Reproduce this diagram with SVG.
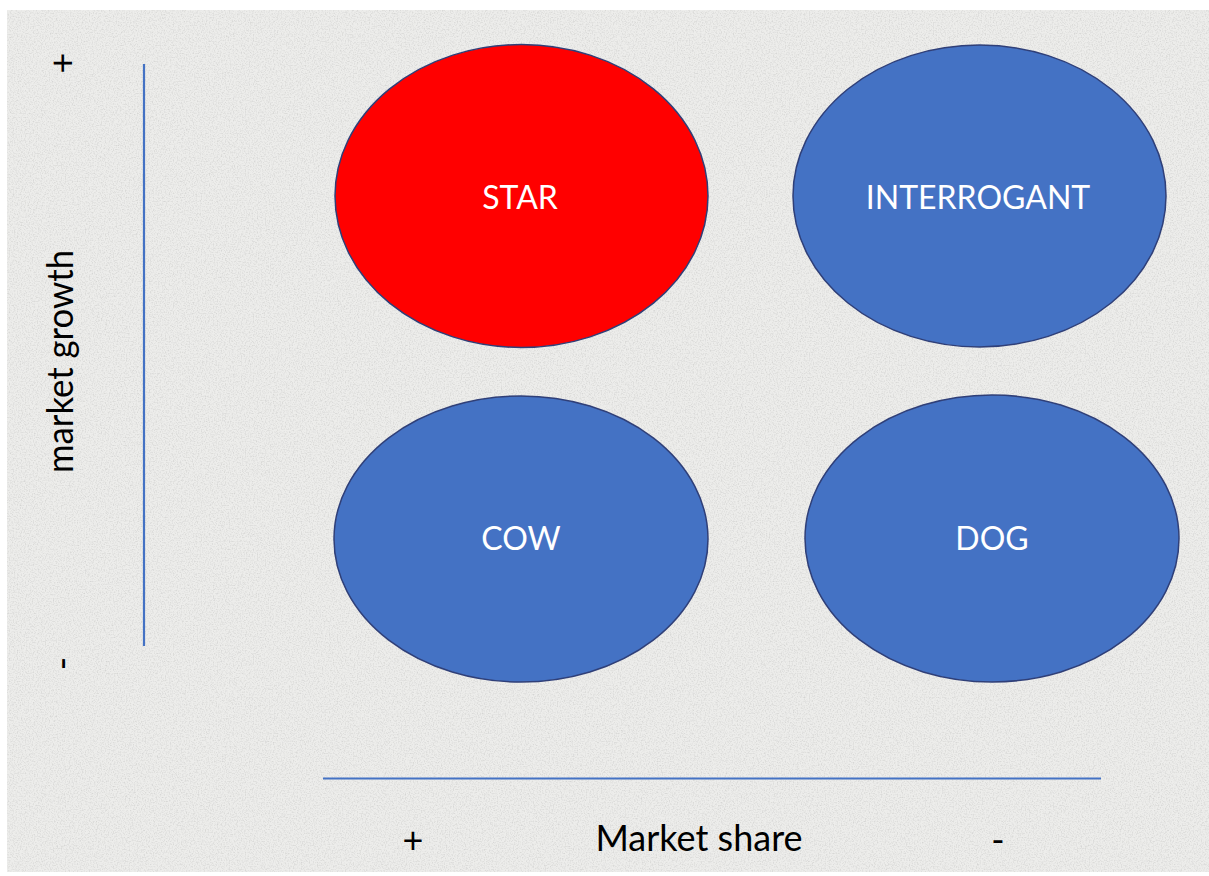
<svg xmlns="http://www.w3.org/2000/svg" width="1209" height="876" viewBox="0 0 1209 876">
<defs>
<style>
.lbl{font-family:Lato,"Open Sans","Liberation Sans",sans-serif;font-size:36px;text-anchor:middle}
.in{fill:#ffffff;font-size:32px}
.ax{fill:#000000}
.node ellipse{stroke:#2F3F78;stroke-width:1.5}
.axis{stroke:#4472C4;stroke-width:2.2;fill:none}
</style>
<filter id="grain" x="0" y="0" width="100%" height="100%">
<feTurbulence type="fractalNoise" baseFrequency="0.75" numOctaves="2" seed="3" result="n"/>
<feColorMatrix in="n" type="matrix" values="0 0 0 0 0.6  0 0 0 0 0.6  0 0 0 0 0.59  2.2 0 0 0 -0.95" result="m"/>
<feComposite in="m" in2="SourceGraphic" operator="in"/>
</filter>
</defs>
<rect x="0" y="0" width="1209" height="876" fill="#ffffff"/>
<g id="background">
<rect x="7" y="10" width="1202" height="862" fill="#EDEDEB"/>
<rect x="7" y="10" width="1202" height="862" fill="#EDEDEB" filter="url(#grain)" opacity="0.7"/>
</g>
<g id="connectors">
<line class="axis" x1="144" y1="64" x2="144" y2="646"/>
<line class="axis" x1="323" y1="778.5" x2="1101" y2="778.5"/>
</g>
<g id="star" class="node">
<ellipse cx="521.5" cy="196" rx="186.5" ry="151.5" fill="#FF0000"/>
<text class="lbl in" x="520" y="209">STAR</text>
</g>
<g id="interrogant" class="node">
<ellipse cx="979.5" cy="196" rx="186.5" ry="151" fill="#4472C4"/>
<text class="lbl in" x="978" y="209">INTERROGANT</text>
</g>
<g id="cow" class="node">
<ellipse cx="521" cy="539" rx="187" ry="143" fill="#4472C4"/>
<text class="lbl in" x="521" y="550">COW</text>
</g>
<g id="dog" class="node">
<ellipse cx="992" cy="538.5" rx="187" ry="143.5" fill="#4472C4"/>
<text class="lbl in" x="992" y="550">DOG</text>
</g>
<g id="y-axis-labels">
<text class="lbl ax" transform="translate(73,361.5) rotate(-90)" x="0" y="0" textLength="223" lengthAdjust="spacingAndGlyphs">market growth</text>
<text class="lbl ax" transform="translate(75,63) rotate(-90)" x="0" y="0">+</text>
<text class="lbl ax" transform="translate(75,663.5) rotate(-90)" x="0" y="0">-</text>
</g>
<g id="x-axis-labels">
<text class="lbl ax" x="699" y="851">Market share</text>
<text class="lbl ax" x="413" y="853">+</text>
<text class="lbl ax" x="998" y="853">-</text>
</g>
</svg>
